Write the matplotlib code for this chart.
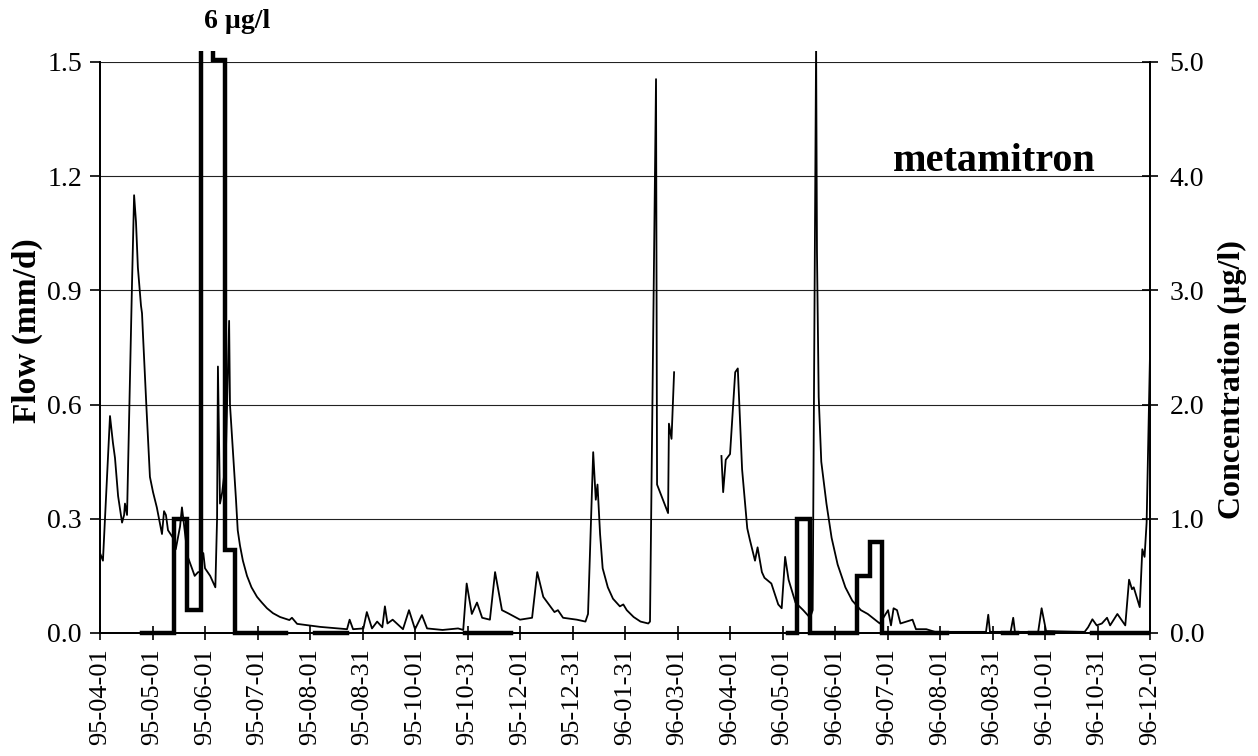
import numpy as np
import matplotlib.pyplot as plt
from matplotlib.transforms import Bbox, TransformedBbox

plt.rcParams['font.family'] = ['Liberation Serif', 'DejaVu Serif']

# x values are days counted from 1995-04-01
flowDays = [0, 1.7, 5.8, 7.5, 8.7, 10.5, 12.8, 14, 14.5, 15.7, 18.6, 19.8, 20.9, 22, 23.8, 24.4, 25,
            27, 29, 30.8, 33, 36, 37.2, 38.3, 39.5, 42.4, 44, 46.5, 47.6, 49.4, 51, 55, 57, 58, 60, 61,
            64, 67, 68, 68.5, 69.7, 71, 73, 75, 75.5, 77.3, 79, 80, 81.3, 83, 85.4, 88, 91.2, 94, 97,
            100.5, 104.6, 110, 111.5, 114.5, 128, 143.5, 145, 147, 153, 155, 158, 161, 164, 165.5, 167,
            170, 176, 179.5, 183, 187, 190, 199, 208, 211, 213, 216, 219, 222, 226.5, 229.5, 233.5, 237,
            244, 251, 254, 257.5, 264, 266, 269, 277, 282, 283.5, 286.5, 288, 289, 290.5, 292, 295, 298,
            302, 304, 306, 310, 314, 318.5, 319.5, 323, 323.6, 330, 330.5, 332, 333.5, 345, 361, 362,
            363.5, 366, 369, 370.5, 373, 376, 377.5, 380.5, 382, 384.5, 386, 390, 394, 396, 398, 400,
            404, 408.5, 412.5, 414, 416, 416.5, 417.5, 419, 422, 425, 428.5, 433, 437, 442, 446, 453,
            457.8, 459.5, 461, 463, 465, 472, 474, 480, 485, 514.7, 516, 517, 529, 530.5, 531.5, 545,
            547, 549.6, 572, 574, 576.5, 579, 582, 585, 586.8, 591, 595.6, 597.8, 599.5, 600.5, 604,
            605.5, 606.8, 608, 610]
flowValues = [0.21, 0.19, 0.57, 0.50, 0.46, 0.36, 0.29, 0.31, 0.34, 0.31, 0.92, 1.15, 1.08, 0.96,
              0.86, 0.84, 0.78, 0.59, 0.41, 0.37, 0.33, 0.26, 0.32, 0.31, 0.27, 0.25, 0.22, 0.28, 0.33,
              0.26, 0.20, 0.15, 0.16, 0.16, 0.21, 0.17, 0.15, 0.12, 0.30, 0.70, 0.34, 0.37, 0.45, 0.82,
              0.60, 0.47, 0.35, 0.27, 0.23, 0.19, 0.15, 0.12, 0.095, 0.08, 0.065, 0.052, 0.042, 0.034,
              0.04, 0.024, 0.016, 0.01, 0.035, 0.01, 0.012, 0.055, 0.012, 0.03, 0.015, 0.07, 0.025,
              0.035, 0.01, 0.06, 0.01, 0.047, 0.012, 0.008, 0.012, 0.008, 0.13, 0.05, 0.08, 0.04, 0.035,
              0.16, 0.06, 0.052, 0.035, 0.04, 0.16, 0.095, 0.055, 0.06, 0.04, 0.035, 0.03, 0.05, 0.475,
              0.35, 0.39, 0.26, 0.17, 0.12, 0.09, 0.07, 0.075, 0.06, 0.042, 0.03, 0.025, 0.03, 1.455,
              0.39, 0.315, 0.55, 0.51, 0.685, np.nan, 0.465, 0.37, 0.455, 0.47, 0.685, 0.695, 0.43,
              0.275, 0.245, 0.19, 0.225, 0.16, 0.145, 0.13, 0.075, 0.065, 0.20, 0.14, 0.08, 0.06, 0.04,
              0.06, 1.55, 1.0, 0.62, 0.45, 0.34, 0.25, 0.18, 0.12, 0.085, 0.06, 0.05, 0.025, 0.06, 0.02,
              0.065, 0.06, 0.025, 0.035, 0.01, 0.01, 0.003, 0.003, 0.048, 0.003, 0.003, 0.04, 0.003,
              0.003, 0.065, 0.005, 0.003, 0.015, 0.036, 0.02, 0.025, 0.04, 0.02, 0.05, 0.02, 0.14,
              0.115, 0.12, 0.068, 0.22, 0.20, 0.29, 0.74]

# sample concentrations, each held until the next sample date
concDays = [24.4, 43, 50.5, 58.7, 65.6, 72.6, 78.4, 108, 125, 143.5, 212, 239, 399.7, 405, 412.5,
            439.8, 447.3, 454.3, 492, 524.6, 532.7, 540.3, 553.6, 576.3, 608.8]
concValues = [0, 1.0, 0.2, 6.0, 5.02, 0.73, 0, np.nan, 0, np.nan, 0, np.nan, 0, 1.0, 0,
              0.5, 0.8, 0, np.nan, 0, np.nan, 0, np.nan, 0, 0]

dateLabels = ["95-04-01", "95-05-01", "95-06-01", "95-07-01", "95-08-01", "95-08-31", "95-10-01",
              "95-10-31", "95-12-01", "95-12-31", "96-01-31", "96-03-01", "96-04-01", "96-05-01",
              "96-06-01", "96-07-01", "96-08-01", "96-08-31", "96-10-01", "96-10-31", "96-12-01"]
tickStep = 30.5

fig = plt.figure(figsize=(12.58, 7.56), dpi=100)
ax = fig.add_axes([0.0795, 0.1627, 0.8347, 0.7553])
ax2 = ax.twinx()

# let the off-scale peaks poke a little above the plot frame
clipBox = TransformedBbox(Bbox([[0, -0.02], [1, 1.02]]), ax.transAxes)

flowLine, = ax.plot(flowDays, flowValues, color='black', lw=1.3, zorder=3)
flowLine.set_clip_box(clipBox)
concLine, = ax2.plot(concDays, concValues, color='black', lw=3.2, drawstyle='steps-post',
                     solid_joinstyle='miter', zorder=4)
concLine.set_clip_box(clipBox)

ax.set_xlim(0, 610)
ax.set_ylim(0, 1.5)
ax2.set_ylim(0, 5.0)

ax.set_xticks(np.arange(len(dateLabels)) * tickStep)
ax.set_xticklabels(dateLabels, rotation=90, fontsize=19)
ax.set_yticks(np.arange(0, 1.51, 0.3))
ax.set_yticklabels(["%.1f" % v for v in np.arange(0, 1.51, 0.3)], fontsize=20)
ax2.set_yticks(np.arange(0, 5.1, 1.0))
ax2.set_yticklabels(["%.1f" % v for v in np.arange(0, 5.1, 1.0)], fontsize=20)

ax.yaxis.grid(True, color='#222222', lw=0.8)
ax.set_axisbelow(True)
ax.tick_params(axis='x', direction='inout', length=10, width=1.2, pad=6)
ax.tick_params(axis='y', direction='out', length=7, width=1.2, pad=6)
ax2.tick_params(axis='y', direction='inout', length=12, width=1.2, pad=8)

for a in (ax, ax2):
    a.spines['top'].set_visible(False)
    a.spines[['left', 'right', 'bottom']].set_linewidth(1.3)

ax.set_ylabel("Flow (mm/d)", fontsize=24, fontweight='bold')
ax.yaxis.set_label_coords(-0.054, 0.53)
ax2.set_ylabel("Concentration (µg/l)", fontsize=23, fontweight='bold')
ax2.yaxis.set_label_coords(1.065, 0.443)

fig.text(237 / 1258, 1 - 22 / 756, "6 µg/l", fontsize=20, fontweight='bold', ha='center', va='center')
ax.text(0.852, 0.825, "metamitron", transform=ax.transAxes, fontsize=29, fontweight='bold',
        ha='center', va='center')

plt.savefig("out.png", dpi=100)
